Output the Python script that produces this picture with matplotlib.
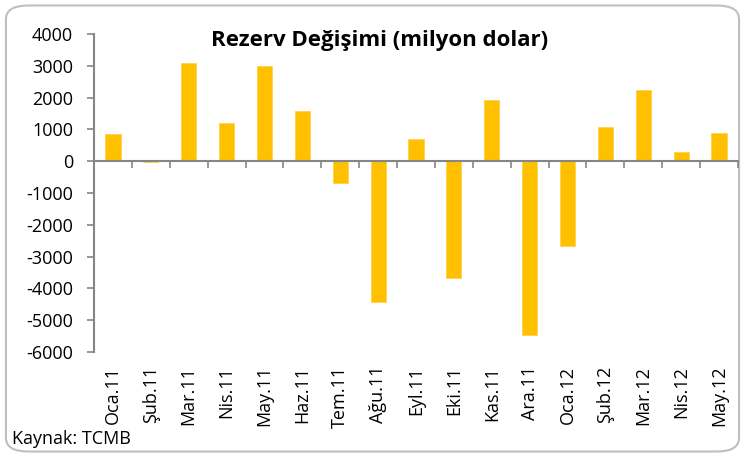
import numpy as np
import matplotlib.pyplot as plt
from matplotlib.patches import FancyBboxPatch

months = ['Oca.11', 'Şub.11', 'Mar.11', 'Nis.11', 'May.11', 'Haz.11',
          'Tem.11', 'Ağu.11', 'Eyl.11', 'Eki.11', 'Kas.11', 'Ara.11',
          'Oca.12', 'Şub.12', 'Mar.12', 'Nis.12', 'May.12']
reserve_change = [870, -30, 3100, 1200, 3000, 1580,
                  -670, -4430, 700, -3680, 1920, -5470,
                  -2670, 1090, 2230, 290, 900]
y_ticks = [4000, 3000, 2000, 1000, 0, -1000, -2000, -3000, -4000, -5000, -6000]

bar_color = '#FFC000'
axis_color = '#868686'

plt.rcParams['font.family'] = ['Open Sans', 'DejaVu Sans']
plt.rcParams['axes.unicode_minus'] = False

fig = plt.figure(figsize=(7.45, 4.57), dpi=100)

# rounded chart border
border = FancyBboxPatch((0.008, 0.012), 0.984, 0.976,
                        boxstyle='round,pad=0,rounding_size=0.03',
                        transform=fig.transFigure, facecolor='white',
                        edgecolor='#BFBFBF', linewidth=1.5, zorder=-10)
fig.patches.append(border)

ax = fig.add_axes([94 / 745, 1 - 352 / 457, (738 - 94) / 745, (352 - 34) / 457])
ax.patch.set_alpha(0)

x = np.arange(len(months))
ax.bar(x, reserve_change, width=0.4, color=bar_color, edgecolor='#FFD24D',
       linewidth=0.6, zorder=2)

ax.set_xlim(-0.5, len(months) - 0.5)
ax.set_ylim(-6000, 4000)
ax.set_yticks(y_ticks)
ax.tick_params(axis='y', direction='out', length=5, width=1.2,
               color=axis_color, labelsize=13, pad=10)

for side in ['top', 'right']:
    ax.spines[side].set_visible(False)
ax.spines['left'].set_color(axis_color)
ax.spines['left'].set_linewidth(1.5)
ax.spines['bottom'].set_position(('data', 0))
ax.spines['bottom'].set_color(axis_color)
ax.spines['bottom'].set_linewidth(1.5)

# boundary ticks on the zero line, no labels
ax.set_xticks(np.arange(-0.5, len(months) + 0.5, 1.0))
ax.tick_params(axis='x', direction='out', length=5, width=1.2,
               color=axis_color, labelbottom=False)

# month labels at the bottom of the plot area
sec = ax.secondary_xaxis(0)
sec.set_xticks(x)
sec.set_xticklabels(months, rotation=90, fontsize=13)
sec.tick_params(axis='x', length=0, pad=10)
sec.spines['bottom'].set_visible(False)

fig.text(0.51, 0.912, 'Rezerv Değişimi (milyon dolar)', ha='center',
         va='center', fontsize=16, fontweight='bold')
fig.text(12 / 745, 1 - 439 / 457, 'Kaynak: TCMB', ha='left', va='center',
         fontsize=13)

fig.savefig('out.png', dpi=100)
